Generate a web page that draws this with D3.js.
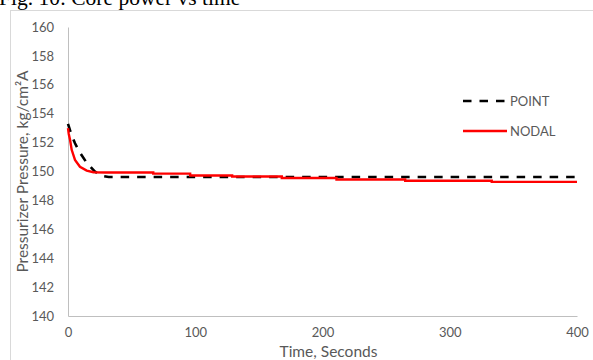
<!DOCTYPE html>
<html lang="en">
<head>
<meta charset="UTF-8">
<title>Pressurizer pressure vs time</title>
<script src="https://d3js.org/d3.v7.min.js"></script>
<style>
  body, html { margin: 0; background: #fff; }
  svg { display: block; }
  .lbl { font-family: Lato, 'Open Sans', sans-serif; font-size: 13px; fill: #595959; }
  .ttl { font-family: Lato, 'Open Sans', sans-serif; font-size: 15.5px; fill: #595959; }
</style>
</head>
<body>
<svg id="chart" width="593" height="360"></svg>
<script>
// data
const pointTime = [0, 2.5, 5.5, 9.4, 14.7, 21, 27, 32, 400];
const pointVals = [153.3, 152.6, 151.95, 151.3, 150.6, 150.0, 149.7, 149.62, 149.62];

const nodalTime = [0, 0.6, 1.6, 2.9, 5.5, 9.4, 14.7, 20, 30, 67, 67, 96, 96, 129, 129, 168, 168, 211, 211, 265, 265, 333, 333, 400];
const nodalVals = [153.0, 152.6, 152.2, 151.5, 150.8, 150.33, 150.06, 149.95, 149.93, 149.93, 149.85, 149.85, 149.72, 149.72, 149.65, 149.65, 149.55, 149.55, 149.45, 149.45, 149.36, 149.36, 149.28, 149.28];

const xTicks = [0, 100, 200, 300, 400];
const yTicks = [140, 142, 144, 146, 148, 150, 152, 154, 156, 158, 160];

const svg = d3.select("#chart");

// caption of the figure, mostly cut off at the top
svg.append("text")
  .attr("x", -1).attr("y", 4.5)
  .attr("font-family", "'Liberation Serif', 'Times New Roman', serif")
  .attr("font-size", 21.5)
  .attr("fill", "#000")
  .text("Fig. 10: Core power vs time");

// chart area border
svg.append("rect")
  .attr("x", 10.5).attr("y", 10.5)
  .attr("width", 600).attr("height", 400)
  .attr("fill", "none").attr("stroke", "#d9d9d9");

const x = d3.scaleLinear().domain([0, 400]).range([68, 577]);
const y = d3.scaleLinear().domain([140, 160]).range([316, 27]);

// axes
const xAxis = svg.append("g").attr("transform", "translate(0,316)")
  .call(d3.axisBottom(x).tickValues(xTicks).tickSize(0).tickPadding(12));
const yAxis = svg.append("g").attr("transform", "translate(68,0)")
  .call(d3.axisLeft(y).tickValues(yTicks).tickSize(0).tickPadding(14));
[xAxis, yAxis].forEach(g => {
  g.select(".domain").attr("stroke", "#bfbfbf");
  g.selectAll("text").attr("class", "lbl").attr("font-family", null).attr("font-size", null);
});

svg.append("text").attr("class", "ttl")
  .attr("x", (68 + 577) / 2 + 6).attr("y", 357)
  .attr("text-anchor", "middle")
  .text("Time, Seconds");

svg.append("text").attr("class", "ttl")
  .attr("transform", "translate(23," + (27 + 316) / 2 + ") rotate(-90)")
  .attr("text-anchor", "middle")
  .attr("dy", "0.35em")
  .text("Pressurizer Pressure, kg/cm²A");

// series
const line = d3.line().x(d => x(d[0])).y(d => y(d[1]));
const nodal = nodalTime.map((t, i) => [t, nodalVals[i]]);
const point = pointTime.map((t, i) => [t, pointVals[i]]);

svg.append("path").datum(point)
  .attr("d", line).attr("fill", "none")
  .attr("stroke", "#000").attr("stroke-width", 2.6)
  .attr("stroke-dasharray", "8.5,8");

svg.append("path").datum(nodal)
  .attr("d", line).attr("fill", "none")
  .attr("stroke", "#ff0000").attr("stroke-width", 2.4);

// legend
const legend = [
  { name: "POINT", color: "#000", dash: "8.5,8" },
  { name: "NODAL", color: "#ff0000", dash: null }
];
const lg = svg.append("g").attr("transform", "translate(463,101)");
legend.forEach((d, i) => {
  const row = lg.append("g").attr("transform", "translate(0," + i * 30 + ")");
  row.append("line").attr("x1", 0).attr("x2", 44)
    .attr("stroke", d.color).attr("stroke-width", d.dash ? 2.6 : 2.4)
    .attr("stroke-dasharray", d.dash);
  row.append("text").attr("class", "lbl").attr("x", 47).attr("dy", "0.35em").text(d.name);
});
</script>
</body>
</html>
